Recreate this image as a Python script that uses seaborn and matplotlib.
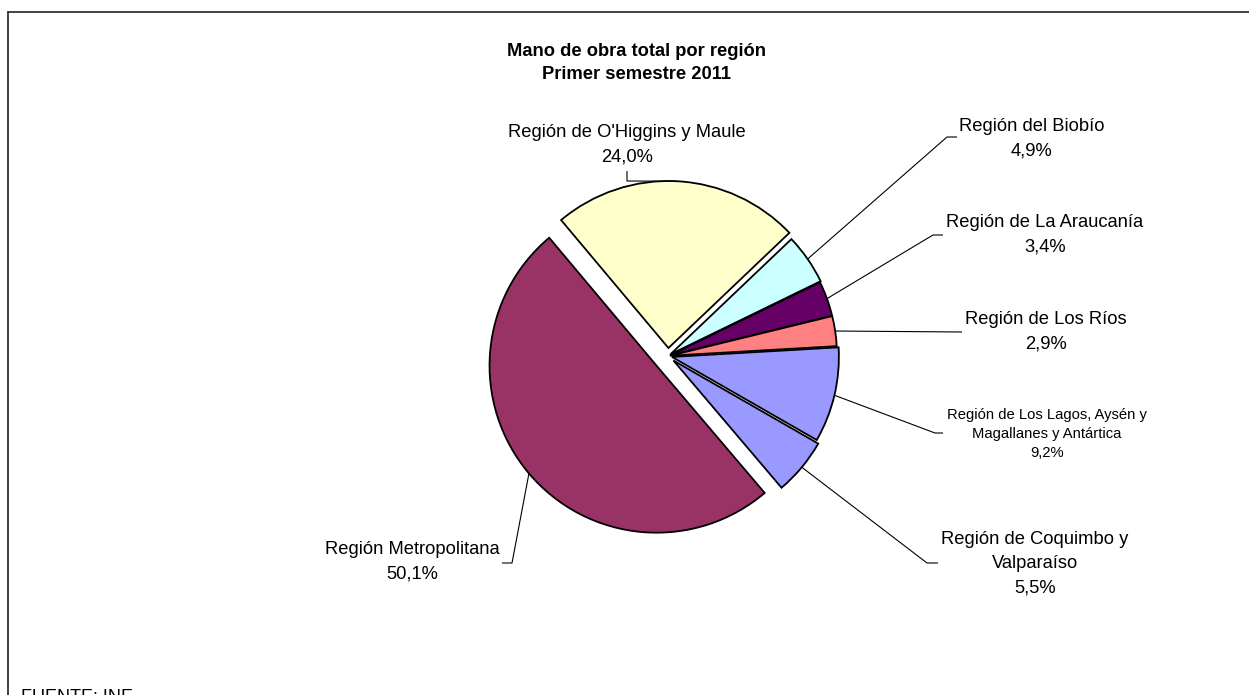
import matplotlib
matplotlib.use("Agg")
import matplotlib.pyplot as plt
import seaborn as sns
import numpy as np

# Data
regions = [
    "Región de O'Higgins y Maule",
    "Región del Biobío",
    "Región de La Araucanía",
    "Región de Los Ríos",
    "Región de Los Lagos, Aysén y\nMagallanes y Antártica",
    "Región de Coquimbo y\nValparaíso",
    "Región Metropolitana",
]
shares = [24.0, 4.9, 3.4, 2.9, 9.2, 5.5, 50.1]
colors = ["#FFFFCC", "#CCFFFF", "#660066", "#FF8080", "#9999FF", "#9999FF", "#993366"]

title = "Mano de obra total por región\nPrimer semestre 2011"
source = "FUENTE: INE"

# Layout, in pixels (image coordinates, y pointing down)
W, H = 1249, 695
CENTER = (668, 356)
RADIUS = 167
START = 130
explode_px = [8, 3, 2, 2, 4, 7, 15]

label_pos = [(627, 145), (1032, 139), (1045, 235), (1046, 332),
             (1047, 434), (1035, 564), (412, 562)]
label_size = [13.2, 13.2, 13.2, 13.2, 10.6, 13.2, 13.2]
label_spacing = [1.6, 1.6, 1.6, 1.6, 1.47, 1.55, 1.6]
leader_pts = [
    [(627, 181), (627, 171)],
    [(947, 137), (957, 137)],
    [(933, 235), (943, 235)],
    [(962, 332)],
    [(935, 433), (943, 433)],
    [(927, 563), (938, 563)],
    [(512, 563), (502, 563)],
]

sns.set_style("white")
plt.rcParams["font.family"] = ["Liberation Sans", "DejaVu Sans"]
plt.rcParams["text.color"] = "black"

palette = sns.color_palette(colors)


def to_data(p):
    return p[0], H - p[1]


fig = plt.figure(figsize=(W / 100, H / 100), dpi=100)
ax = fig.add_axes([0, 0, 1, 1])

wedges, _ = ax.pie(
    shares,
    colors=palette,
    explode=explode_px,
    startangle=START,
    counterclock=False,
    radius=RADIUS,
    center=to_data(CENTER),
    frame=True,
    wedgeprops=dict(edgecolor="black", linewidth=1.3),
)
ax.set_xlim(0, W)
ax.set_ylim(0, H)
ax.set_aspect("equal")
ax.axis("off")

# labels with leader lines
for w, name, val, pos, fs, ls, pts in zip(wedges, regions, shares, label_pos,
                                          label_size, label_spacing, leader_pts):
    mid = np.deg2rad((w.theta1 + w.theta2) / 2)
    ax_x = w.center[0] + w.r * np.cos(mid)
    ax_y = w.center[1] + w.r * np.sin(mid)
    xs = [ax_x] + [p[0] for p in pts]
    ys = [ax_y] + [H - p[1] for p in pts]
    ax.plot(xs, ys, color="black", lw=0.8, solid_capstyle="butt")
    txt = f"{name}\n{val:.1f}%".replace(".", ",")
    ax.text(*to_data(pos), txt, ha="center", va="center", fontsize=fs,
            linespacing=ls, color="black")

# title
ax.text(637, H - 63, title, ha="center", va="center", fontsize=13.2,
        fontweight="bold", linespacing=1.45, color="black")

# source note
ax.text(21, H - 689, source, ha="left", va="top", fontsize=13, color="black")

# chart frame (cut by the picture edges)
ax.plot([8.5, W + 5], [H - 11.5, H - 11.5], color="#333333", lw=1.3, clip_on=False)
ax.plot([8.5, 8.5], [H - 11.5, -5], color="#333333", lw=1.3, clip_on=False)

fig.savefig("out.png", dpi=100)
